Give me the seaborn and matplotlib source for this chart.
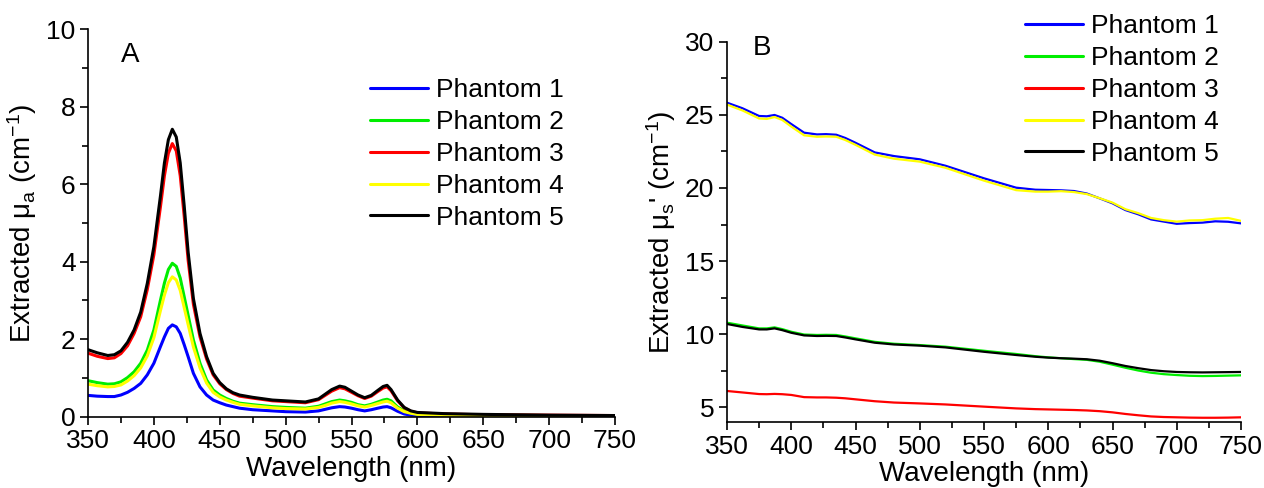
import numpy as np
import pandas as pd
import matplotlib
matplotlib.use("Agg")
import matplotlib.pyplot as plt
import seaborn as sns

# ---------------- data ----------------
phantoms = ["Phantom 1", "Phantom 2", "Phantom 3", "Phantom 4", "Phantom 5"]
colors = ["#0000ff", "#00ee00", "#ff0000", "#ffff00", "#000000"]

# Panel A: absorption coefficient
wl_a = [350, 357, 365, 370, 375, 380, 385, 390, 395, 400, 405, 408, 411, 414, 417,
        420, 423, 426, 430, 435, 440, 445, 450, 455, 460, 465, 475, 490, 500, 515,
        525, 530, 535, 541, 545, 550, 555, 560, 565, 570, 574, 577, 580, 585, 590,
        595, 600, 620, 650, 700, 750]
mua_p1 = [0.55, 0.53, 0.52, 0.52, 0.56, 0.63, 0.73, 0.86, 1.08, 1.38, 1.81, 2.06, 2.28, 2.37, 2.32,
          2.15, 1.86, 1.55, 1.12, 0.77, 0.56, 0.43, 0.36, 0.30, 0.26, 0.22, 0.18, 0.15, 0.13, 0.12,
          0.15, 0.19, 0.23, 0.26, 0.25, 0.22, 0.18, 0.15, 0.18, 0.22, 0.25, 0.26, 0.23, 0.14, 0.07,
          0.04, 0.03, 0.02, 0.02, 0.01, 0.01]
mua_p2 = [0.93, 0.88, 0.84, 0.85, 0.90, 1.01, 1.16, 1.38, 1.72, 2.24, 3.01, 3.45, 3.80, 3.96, 3.88,
          3.58, 3.10, 2.62, 1.98, 1.38, 0.95, 0.69, 0.56, 0.47, 0.40, 0.35, 0.31, 0.26, 0.24, 0.22,
          0.27, 0.33, 0.39, 0.43, 0.41, 0.37, 0.31, 0.28, 0.32, 0.38, 0.43, 0.45, 0.41, 0.25, 0.15,
          0.10, 0.07, 0.05, 0.04, 0.03, 0.02]
mua_p3 = [1.64, 1.56, 1.50, 1.52, 1.63, 1.83, 2.15, 2.58, 3.28, 4.18, 5.42, 6.22, 6.80, 7.05, 6.86,
          6.22, 5.18, 4.04, 2.90, 2.06, 1.49, 1.08, 0.85, 0.70, 0.60, 0.53, 0.48, 0.41, 0.39, 0.36,
          0.44, 0.55, 0.66, 0.75, 0.72, 0.63, 0.54, 0.47, 0.53, 0.65, 0.74, 0.77, 0.67, 0.41, 0.23,
          0.14, 0.10, 0.07, 0.05, 0.04, 0.03]
mua_p4 = [0.84, 0.80, 0.77, 0.78, 0.82, 0.92, 1.06, 1.26, 1.57, 2.04, 2.74, 3.14, 3.46, 3.61, 3.53,
          3.26, 2.82, 2.38, 1.80, 1.26, 0.87, 0.63, 0.51, 0.43, 0.37, 0.32, 0.28, 0.23, 0.21, 0.20,
          0.24, 0.29, 0.35, 0.39, 0.37, 0.33, 0.28, 0.25, 0.29, 0.34, 0.38, 0.40, 0.36, 0.22, 0.13,
          0.09, 0.06, 0.04, 0.03, 0.02, 0.02]
mua_p5 = [1.73, 1.65, 1.58, 1.60, 1.70, 1.92, 2.24, 2.70, 3.44, 4.39, 5.70, 6.55, 7.15, 7.42, 7.22,
          6.55, 5.45, 4.25, 3.05, 2.15, 1.55, 1.12, 0.88, 0.72, 0.62, 0.56, 0.50, 0.43, 0.41, 0.38,
          0.46, 0.58, 0.70, 0.79, 0.76, 0.66, 0.56, 0.49, 0.55, 0.68, 0.78, 0.81, 0.70, 0.43, 0.24,
          0.15, 0.11, 0.08, 0.06, 0.04, 0.03]

# Panel B: reduced scattering coefficient
wl_b = [350, 362, 375, 381, 387, 393, 400, 410, 420, 427, 435, 442, 450, 465, 480, 500, 520, 550,
        575, 590, 600, 610, 620, 630, 640, 650, 660, 670, 680, 690, 700, 710, 720, 730, 740, 750]
mus_p1 = [25.83, 25.45, 24.92, 24.90, 24.99, 24.80, 24.37, 23.78, 23.66, 23.68, 23.64, 23.42,
          23.09, 22.43, 22.18, 21.96, 21.52, 20.66, 20.02, 19.88, 19.86, 19.84, 19.79, 19.62,
          19.29, 18.95, 18.49, 18.20, 17.85, 17.70, 17.55, 17.60, 17.63, 17.72, 17.69, 17.58]
mus_p2 = [10.79, 10.60, 10.40, 10.40, 10.47, 10.35, 10.17, 9.98, 9.95, 9.96, 9.95, 9.85,
          9.72, 9.48, 9.35, 9.26, 9.15, 8.87, 8.65, 8.50, 8.42, 8.36, 8.30, 8.25,
          8.12, 7.92, 7.71, 7.52, 7.37, 7.27, 7.21, 7.16, 7.14, 7.15, 7.17, 7.19]
mus_p3 = [6.12, 6.02, 5.91, 5.90, 5.92, 5.90, 5.85, 5.70, 5.68, 5.68, 5.66, 5.62,
          5.55, 5.42, 5.33, 5.27, 5.20, 5.05, 4.93, 4.88, 4.86, 4.84, 4.82, 4.79,
          4.74, 4.66, 4.55, 4.46, 4.38, 4.34, 4.32, 4.30, 4.29, 4.29, 4.30, 4.32]
mus_p4 = [25.70, 25.30, 24.75, 24.72, 24.85, 24.65, 24.20, 23.60, 23.50, 23.52, 23.50, 23.28,
          22.95, 22.28, 22.00, 21.80, 21.38, 20.50, 19.85, 19.75, 19.75, 19.78, 19.72, 19.58,
          19.30, 19.00, 18.55, 18.28, 17.95, 17.80, 17.70, 17.78, 17.80, 17.90, 17.95, 17.75]
mus_p5 = [10.70, 10.50, 10.33, 10.33, 10.40, 10.28, 10.10, 9.92, 9.88, 9.89, 9.88, 9.78,
          9.65, 9.42, 9.30, 9.22, 9.10, 8.80, 8.58, 8.46, 8.40, 8.36, 8.33, 8.29,
          8.19, 8.02, 7.83, 7.68, 7.55, 7.47, 7.42, 7.40, 7.39, 7.40, 7.41, 7.42]

xticks = [350, 400, 450, 500, 550, 600, 650, 700, 750]
yticks_a = [0, 2, 4, 6, 8, 10]
yticks_b = [5, 10, 15, 20, 25, 30]

# ---------------- style ----------------
sns.set_theme(style="ticks")
plt.rcParams["font.family"] = ["Liberation Sans", "DejaVu Sans"]
plt.rcParams["mathtext.fontset"] = "custom"
plt.rcParams["mathtext.rm"] = "Liberation Sans"
plt.rcParams["mathtext.it"] = "Liberation Sans"
plt.rcParams["mathtext.bf"] = "Liberation Sans:bold"
for k in ("text.color", "axes.labelcolor", "xtick.color", "ytick.color", "axes.edgecolor"):
    plt.rcParams[k] = "black"


def long_df(wl, series):
    frames = []
    for name, vals in zip(phantoms, series):
        frames.append(pd.DataFrame({"wl": wl, "val": vals, "Phantom": name}))
    return pd.concat(frames, ignore_index=True)


df_a = long_df(wl_a, [mua_p1, mua_p2, mua_p3, mua_p4, mua_p5])
df_b = long_df(wl_b, [mus_p1, mus_p2, mus_p3, mus_p4, mus_p5])
palette = dict(zip(phantoms, colors))

fig = plt.figure(figsize=(12.64, 4.88), dpi=100)
axA = fig.add_axes([88 / 1264, 1 - 416.7 / 488, 527 / 1264, 387.4 / 488])
axB = fig.add_axes([727 / 1264, 1 - 422 / 488, 514 / 1264, 380.3 / 488])

sns.lineplot(data=df_a, x="wl", y="val", hue="Phantom", palette=palette,
             hue_order=phantoms, ax=axA, linewidth=2.2, sort=False)
sns.lineplot(data=df_b, x="wl", y="val", hue="Phantom", palette=palette,
             hue_order=phantoms, ax=axB, linewidth=1.6, sort=False)

fs_tick = 19
fs_lab = 20
fs_leg = 19

for ax in (axA, axB):
    ax.set_xlim(350, 750)
    ax.set_xticks(xticks)
    ax.set_xticks(np.arange(375, 750, 50), minor=True)
    ax.tick_params(axis="both", which="major", direction="out", length=6, width=1.2,
                   labelsize=fs_tick, colors="black", pad=3)
    ax.tick_params(axis="both", which="minor", direction="out", length=4, width=1.2,
                   colors="black")
    ax.set_xlabel("Wavelength (nm)", fontsize=fs_lab, labelpad=2)
    sns.despine(ax=ax)
    for s in ("left", "bottom"):
        ax.spines[s].set_linewidth(1.2)
        ax.spines[s].set_color("black")

axA.set_ylim(0, 10)
axA.set_yticks(yticks_a)
axA.set_yticks([1, 3, 5, 7, 9], minor=True)
axA.set_ylabel(r"Extracted $\mu_a$ (cm$^{-1}$)", fontsize=fs_lab, labelpad=5)

axB.set_ylim(4, 30)
axB.set_yticks(yticks_b)
axB.set_yticks([7.5, 12.5, 17.5, 22.5, 27.5], minor=True)
axB.set_ylabel(r"Extracted $\mu_s$' (cm$^{-1}$)", fontsize=fs_lab, labelpad=5)

legend_kw = dict(bbox_transform=fig.transFigure, frameon=False, fontsize=fs_leg,
                 handlelength=2.2, handletextpad=0.3, labelspacing=0.3, borderpad=0,
                 borderaxespad=0, loc="upper left")
hA, lA = axA.get_legend_handles_labels()
axA.legend(hA, lA, bbox_to_anchor=(370 / 1264, 1 - 78 / 488), **legend_kw)
hB, lB = axB.get_legend_handles_labels()
axB.legend(hB, lB, bbox_to_anchor=(1025 / 1264, 1 - 14 / 488), **legend_kw)
for leg in (axA.get_legend(), axB.get_legend()):
    for ln in leg.get_lines():
        ln.set_linewidth(2.2)

fig.text(130 / 1264, 1 - 55 / 488, "A", fontsize=20, ha="center", va="center")
fig.text(762 / 1264, 1 - 48 / 488, "B", fontsize=20, ha="center", va="center")

fig.savefig("out.png", dpi=100, facecolor="white")
